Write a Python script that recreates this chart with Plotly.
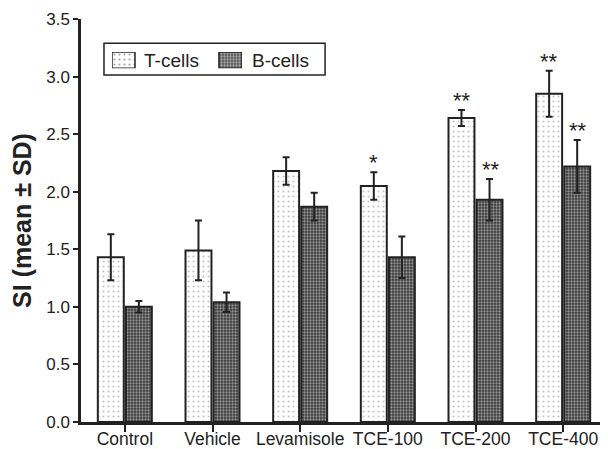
import plotly.graph_objects as go

categories = ["Control", "Vehicle", "Levamisole", "TCE-100", "TCE-200", "TCE-400"]
t_cells = [1.43, 1.49, 2.18, 2.05, 2.64, 2.85]
t_sd = [0.20, 0.26, 0.12, 0.12, 0.07, 0.20]
b_cells = [1.00, 1.04, 1.87, 1.43, 1.93, 2.22]
b_sd = [0.05, 0.085, 0.12, 0.18, 0.18, 0.23]
t_sig = ["", "", "", "*", "**", "**"]
b_sig = ["", "", "", "", "**", "**"]
y_ticks = [0.0, 0.5, 1.0, 1.5, 2.0, 2.5, 3.0, 3.5]
series_names = ["T-cells", "B-cells"]

FONT = "Arial, Liberation Sans, sans-serif"
INK = "#222222"

T_PATTERN = dict(shape=".", size=5, solidity=0.14, fgcolor="#888888", bgcolor="white")
B_PATTERN = dict(shape=".", size=3, solidity=0.45, fgcolor="#eeeeee", bgcolor="#3a3a3a")

fig = go.Figure()
fig.add_trace(go.Bar(
    name=series_names[0], x=categories, y=t_cells, showlegend=False,
    error_y=dict(type="data", array=t_sd, visible=True, color=INK, thickness=2, width=3.5),
    marker=dict(color="white", line=dict(color=INK, width=2), pattern=T_PATTERN),
))
fig.add_trace(go.Bar(
    name=series_names[1], x=categories, y=b_cells, showlegend=False,
    error_y=dict(type="data", array=b_sd, visible=True, color=INK, thickness=2, width=3.5),
    marker=dict(color="#555555", line=dict(color=INK, width=2), pattern=B_PATTERN),
))

# legend swatches drawn as patterned bars on a small overlay axis
fig.add_trace(go.Bar(
    x=[0, 1], y=[1, 1], width=[0.215, 0.215], xaxis="x2", yaxis="y2", showlegend=False,
    hoverinfo="skip",
    marker=dict(color=["white", "#555555"], line=dict(color=INK, width=1.5),
                pattern=dict(shape=".", size=[5, 3], solidity=[0.14, 0.45],
                             fgcolor=["#888888", "#eeeeee"], bgcolor=["white", "#3a3a3a"])),
))

annotations = []
for cat, v, sd, s in zip(categories, t_cells, t_sd, t_sig):
    if s:
        annotations.append(dict(x=cat, y=v + sd, text=s, showarrow=False, xshift=-14,
                                yanchor="bottom", yshift=-5, font=dict(family=FONT, size=22, color=INK)))
for cat, v, sd, s in zip(categories, b_cells, b_sd, b_sig):
    if s:
        annotations.append(dict(x=cat, y=v + sd, text=s, showarrow=False, xshift=15,
                                yanchor="bottom", yshift=-5, font=dict(family=FONT, size=22, color=INK)))
# legend labels
for xpos, name in zip([0.116, 0.321], series_names):
    annotations.append(dict(xref="paper", yref="paper", x=xpos, y=0.898, text=name, showarrow=False,
                            xanchor="left", yanchor="middle", font=dict(family=FONT, size=19, color=INK)))

# the page body adds an 8px offset, so the figure is sized 8px smaller than the window
fig.update_layout(
    width=600, height=441,
    margin=dict(l=73, r=1, t=11, b=27, autoexpand=False),
    paper_bgcolor="white", plot_bgcolor="white",
    barmode="group", bargap=0.36, bargroupgap=0.075,
    font=dict(family=FONT, color=INK),
    showlegend=False,
    annotations=annotations,
    shapes=[dict(type="rect", xref="paper", yref="paper", x0=0.0437, x1=0.464, y0=0.861, y1=0.94,
                 line=dict(color=INK, width=1.5), fillcolor="white", layer="below")],
    xaxis=dict(range=[-0.5, 5.5], showline=True, linecolor=INK, linewidth=2.5,
               ticks="outside", ticklen=7, tickwidth=2, tickcolor=INK, automargin=False,
               ticklabelstandoff=-8,
               tickfont=dict(family=FONT, size=17.5, color=INK), showgrid=False, zeroline=False),
    yaxis=dict(range=[0, 3.5], tickvals=y_ticks, ticktext=[f"{v:.1f}" for v in y_ticks],
               showline=True, linecolor=INK, linewidth=2.5, automargin=False,
               ticks="outside", ticklen=5, tickwidth=2, tickcolor=INK,
               tickfont=dict(family=FONT, size=17, color=INK), showgrid=False, zeroline=False,
               title=dict(text="<b>SI (mean ± SD)</b>", font=dict(family=FONT, size=25, color=INK), standoff=10)),
    xaxis2=dict(domain=[0.0589, 0.306], range=[-0.1075, 1.1075], visible=False, fixedrange=True),
    yaxis2=dict(domain=[0.878, 0.918], range=[0, 1], visible=False, fixedrange=True),
)

fig.write_html("out.html")
